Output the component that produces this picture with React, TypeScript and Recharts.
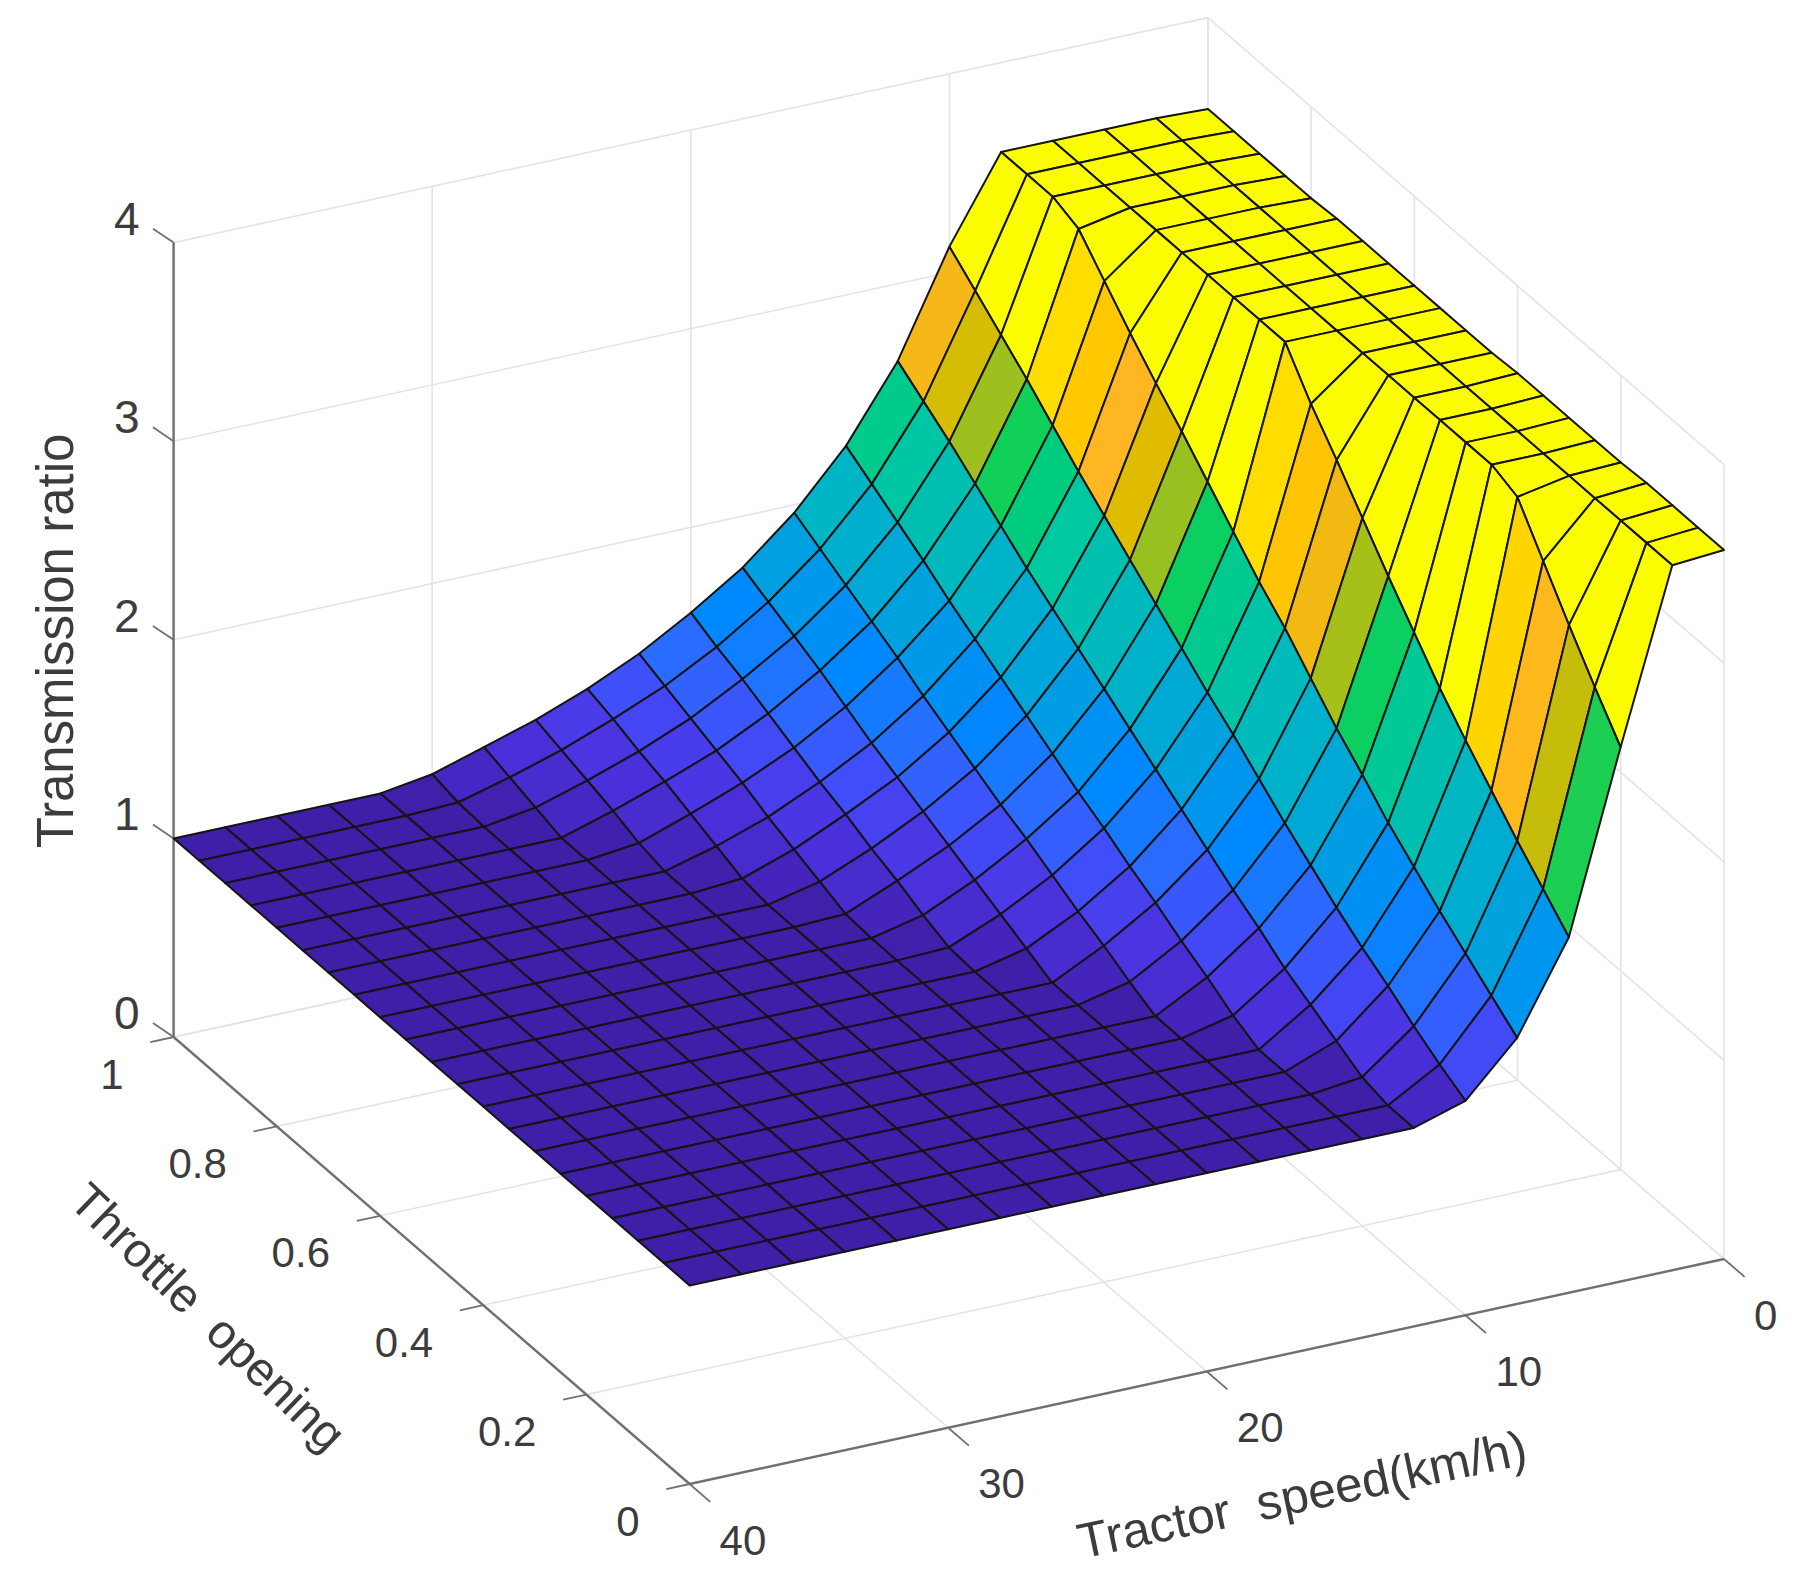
import { Scatter, ScatterChart, XAxis, YAxis } from 'recharts';

// tractor speed (km/h) and throttle opening at the surface nodes
const speedNodes = [0, 2, 4, 6, 8, 10, 12, 14, 16, 18, 20, 22, 24, 26, 28, 30, 32, 34, 36, 38, 40];
const throttleNodes = [0, 0.05, 0.1, 0.15, 0.2, 0.25, 0.3, 0.35, 0.4, 0.45, 0.5, 0.55, 0.6, 0.65, 0.7, 0.75, 0.8, 0.85, 0.9, 0.95, 1];

// one row per speed, one value per throttle node
const ratioRows = [
  [3.57, 3.57, 3.57, 3.57, 3.56, 3.56, 3.56, 3.56, 3.56, 3.55, 3.55, 3.55, 3.55, 3.55, 3.55, 3.55, 3.54, 3.54, 3.54, 3.54, 3.54],
  [3.55, 3.55, 3.55, 3.55, 3.55, 3.55, 3.55, 3.55, 3.55, 3.55, 3.55, 3.55, 3.55, 3.55, 3.55, 3.55, 3.55, 3.55, 3.55, 3.55, 3.55],
  [2.69, 2.88, 3.08, 3.29, 3.5, 3.55, 3.55, 3.55, 3.55, 3.55, 3.55, 3.55, 3.55, 3.55, 3.55, 3.55, 3.55, 3.55, 3.55, 3.55, 3.55],
  [1.79, 1.92, 2.05, 2.19, 2.33, 2.48, 2.65, 2.82, 3.0, 3.18, 3.35, 3.55, 3.55, 3.55, 3.55, 3.55, 3.55, 3.55, 3.55, 3.55, 3.55],
  [1.34, 1.44, 1.54, 1.64, 1.75, 1.86, 1.99, 2.11, 2.25, 2.39, 2.51, 2.65, 2.79, 2.93, 3.06, 3.2, 3.35, 3.5, 3.55, 3.55, 3.55],
  [1.08, 1.15, 1.23, 1.32, 1.4, 1.49, 1.59, 1.69, 1.8, 1.91, 2.01, 2.12, 2.23, 2.34, 2.45, 2.56, 2.68, 2.8, 2.91, 3.02, 3.13],
  [1, 1, 1.03, 1.1, 1.17, 1.24, 1.33, 1.41, 1.5, 1.59, 1.68, 1.77, 1.86, 1.95, 2.04, 2.13, 2.23, 2.33, 2.43, 2.52, 2.61],
  [1, 1, 1, 1, 1, 1.06, 1.14, 1.21, 1.29, 1.36, 1.44, 1.51, 1.59, 1.67, 1.75, 1.83, 1.91, 2.0, 2.08, 2.16, 2.24],
  [1, 1, 1, 1, 1, 1, 1, 1.06, 1.13, 1.19, 1.26, 1.33, 1.39, 1.46, 1.53, 1.6, 1.68, 1.75, 1.82, 1.89, 1.96],
  [1, 1, 1, 1, 1, 1, 1, 1, 1, 1.06, 1.12, 1.18, 1.24, 1.3, 1.36, 1.42, 1.49, 1.56, 1.62, 1.68, 1.74],
  [1, 1, 1, 1, 1, 1, 1, 1, 1, 1, 1.01, 1.06, 1.12, 1.17, 1.23, 1.28, 1.34, 1.4, 1.46, 1.51, 1.57],
  [1, 1, 1, 1, 1, 1, 1, 1, 1, 1, 1, 1, 1.01, 1.06, 1.11, 1.16, 1.22, 1.27, 1.32, 1.37, 1.42],
  [1, 1, 1, 1, 1, 1, 1, 1, 1, 1, 1, 1, 1, 1, 1.02, 1.07, 1.12, 1.17, 1.21, 1.26, 1.3],
  [1, 1, 1, 1, 1, 1, 1, 1, 1, 1, 1, 1, 1, 1, 1, 1, 1.03, 1.08, 1.12, 1.16, 1.2],
  [1, 1, 1, 1, 1, 1, 1, 1, 1, 1, 1, 1, 1, 1, 1, 1, 1, 1, 1.04, 1.08, 1.12],
  [1, 1, 1, 1, 1, 1, 1, 1, 1, 1, 1, 1, 1, 1, 1, 1, 1, 1, 1, 1.01, 1.04],
  [1, 1, 1, 1, 1, 1, 1, 1, 1, 1, 1, 1, 1, 1, 1, 1, 1, 1, 1, 1, 1],
  [1, 1, 1, 1, 1, 1, 1, 1, 1, 1, 1, 1, 1, 1, 1, 1, 1, 1, 1, 1, 1],
  [1, 1, 1, 1, 1, 1, 1, 1, 1, 1, 1, 1, 1, 1, 1, 1, 1, 1, 1, 1, 1],
  [1, 1, 1, 1, 1, 1, 1, 1, 1, 1, 1, 1, 1, 1, 1, 1, 1, 1, 1, 1, 1],
  [1, 1, 1, 1, 1, 1, 1, 1, 1, 1, 1, 1, 1, 1, 1, 1, 1, 1, 1, 1, 1],
];

const speedTicks = [0, 10, 20, 30, 40];
const throttleTicks = [0, 0.2, 0.4, 0.6, 0.8, 1];
const ratioTicks = [0, 1, 2, 3, 4];

// colormap of the surface, ratio -> colour
const colorLevels = [1, 1.04, 1.08, 1.16, 1.26, 1.37, 1.51, 1.68, 1.89, 2.16, 2.3, 2.45, 2.56, 2.68, 2.79, 2.93, 3.06, 3.2, 3.35, 3.5];
const colorValues = ['#3f1fa8', '#4220b0', '#4528c4', '#4a2fd8', '#4a3ae8', '#3e50fa', '#2a6cff', '#0088ff', '#00a0e0', '#00b5c5', '#00bdb5', '#00c8a0', '#00cc80', '#10d058', '#98c020', '#e0bc00', '#ffb622', '#ffc800', '#ffdd00', '#fcfc00'];

const CHART_W = 1811;
const CHART_H = 1590;

// fixed MATLAB-style view, the 3D box flattened to the page
const project = (speed: number, throttle: number, ratio: number) => ({
  x: 1724 - 25.86 * speed - 516 * throttle,
  y: 1259 + 5.625 * speed - 447 * throttle - 198.6 * ratio,
});

const mix = (a: string, b: string, k: number) => {
  const ch = (s: string, i: number) => parseInt(s.slice(i, i + 2), 16);
  const part = (i: number) => Math.round(ch(a, i) + (ch(b, i) - ch(a, i)) * k);
  return `rgb(${part(1)},${part(3)},${part(5)})`;
};

const surfaceColor = (ratio: number) => {
  if (ratio <= colorLevels[0]) return colorValues[0];
  for (let i = 1; i < colorLevels.length; i++) {
    if (ratio <= colorLevels[i]) {
      return mix(colorValues[i - 1], colorValues[i], (ratio - colorLevels[i - 1]) / (colorLevels[i] - colorLevels[i - 1]));
    }
  }
  return colorValues[colorValues.length - 1];
};

type Face = { key: string; points: { x: number; y: number }[]; color: string };

// far corner first so nearer faces paint over
const faces: Face[] = [];
for (let t = throttleNodes.length - 1; t > 0; t--) {
  for (let s = 0; s < speedNodes.length - 1; s++) {
    faces.push({
      key: `${s}-${t}`,
      color: surfaceColor(ratioRows[s][t - 1]),
      points: [
        project(speedNodes[s], throttleNodes[t], ratioRows[s][t]),
        project(speedNodes[s + 1], throttleNodes[t], ratioRows[s + 1][t]),
        project(speedNodes[s + 1], throttleNodes[t - 1], ratioRows[s + 1][t - 1]),
        project(speedNodes[s], throttleNodes[t - 1], ratioRows[s][t - 1]),
      ],
    });
  }
}

type Seg = [number, number, number][];

const gridSegments: Seg[] = [
  ...speedTicks.map((v): Seg => [[v, 0, 0], [v, 1, 0]]),
  ...throttleTicks.map((t): Seg => [[0, t, 0], [40, t, 0]]),
  ...speedTicks.map((v): Seg => [[v, 1, 0], [v, 1, 4]]),
  ...ratioTicks.map((z): Seg => [[0, 1, z], [40, 1, z]]),
  ...throttleTicks.map((t): Seg => [[0, t, 0], [0, t, 4]]),
  ...ratioTicks.map((z): Seg => [[0, 0, z], [0, 1, z]]),
];

const axisSegments: Seg[] = [
  [[40, 1, 0], [40, 1, 4]],
  [[40, 0, 0], [40, 1, 0]],
  [[0, 0, 0], [40, 0, 0]],
];

const tickSegments: Seg[] = [
  ...ratioTicks.map((z): Seg => [[40, 1, z], [40, 1.04, z - 0.02]]),
  ...throttleTicks.map((t): Seg => [[40, t, 0], [40.9, t, 0]]),
  ...speedTicks.map((v): Seg => [[v, 0, 0], [v, -0.04, 0]]),
];

const tickFont = 'Liberation Sans, Arial, sans-serif';

const NoDot = () => null;

const TextMark = (props: any) => {
  const { cx, cy, text, anchor = 'middle', angle = 0, dx = 0, dy = 0, fontPx = 42 } = props;
  const x = cx + dx;
  const y = cy + dy;
  return (
    <text
      x={x}
      y={y}
      textAnchor={anchor}
      dominantBaseline="central"
      fontFamily={tickFont}
      fontSize={fontPx}
      fill="#3c3c3c"
      transform={angle ? `rotate(${angle} ${x} ${y})` : undefined}
    >
      {text}
    </text>
  );
};

const tickLabels = [
  ...ratioTicks.map((z) => ({ ...project(40, 1, z), text: String(z), anchor: 'end', dx: -34, dy: -24, fontPx: 46 })),
  ...throttleTicks.map((t) => ({ ...project(40, t, 0), text: String(t), anchor: 'end', dx: -50, dy: 37 })),
  ...speedTicks.map((v) => ({ ...project(v, 0, 0), text: String(v), anchor: 'start', dx: 30, dy: 56 })),
];

const axisTitles = [
  { x: 55, y: 641, text: 'Transmission ratio', angle: -90, fontPx: 51 },
  { x: 208, y: 1317, text: 'Throttle\u00A0\u00A0opening', angle: 44, fontPx: 48 },
  { x: 1302, y: 1494, text: 'Tractor\u00A0\u00A0speed(km/h)', angle: -12, fontPx: 49.5 },
];

const segLine = (seg: Seg) => seg.map(([v, t, z]) => project(v, t, z));

export default function App() {
  return (
    <div style={{ position: 'absolute', left: 0, top: 0, width: CHART_W, height: CHART_H, background: '#fff' }}>
      <ScatterChart width={CHART_W} height={CHART_H} margin={{ top: 0, right: 0, bottom: 0, left: 0 }}>
        <XAxis type="number" dataKey="x" domain={[0, CHART_W]} hide />
        <YAxis type="number" dataKey="y" domain={[0, CHART_H]} reversed hide />
        {gridSegments.map((seg, i) => (
          <Scatter
            key={`grid-${i}`}
            data={segLine(seg)}
            line={{ stroke: '#e4e4e4', strokeWidth: 1.6 }}
            shape={NoDot}
            isAnimationActive={false}
          />
        ))}
        {axisSegments.map((seg, i) => (
          <Scatter
            key={`axis-${i}`}
            data={segLine(seg)}
            line={{ stroke: '#707070', strokeWidth: 2.4 }}
            shape={NoDot}
            isAnimationActive={false}
          />
        ))}
        {tickSegments.map((seg, i) => (
          <Scatter
            key={`tick-${i}`}
            data={segLine(seg)}
            line={{ stroke: '#707070', strokeWidth: 1.8 }}
            shape={NoDot}
            isAnimationActive={false}
          />
        ))}
        {faces.map((face) => (
          <Scatter
            key={face.key}
            data={face.points}
            line={{ stroke: '#141414', strokeWidth: 2, fill: face.color, strokeLinejoin: 'round' }}
            lineJointType="linearClosed"
            shape={NoDot}
            isAnimationActive={false}
          />
        ))}
        <Scatter data={tickLabels} shape={TextMark} isAnimationActive={false} />
        <Scatter data={axisTitles} shape={TextMark} isAnimationActive={false} />
      </ScatterChart>
    </div>
  );
}
